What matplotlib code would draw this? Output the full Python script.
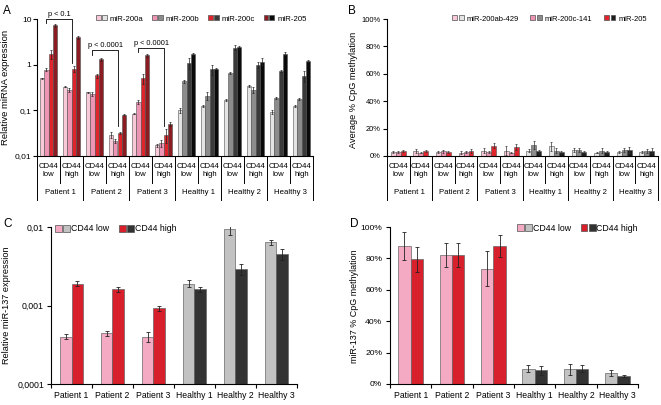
import numpy as np
import matplotlib
matplotlib.use('Agg')
import matplotlib.pyplot as plt
from matplotlib.patches import Patch
from matplotlib.legend_handler import HandlerTuple
from matplotlib.ticker import FuncFormatter, FixedLocator, NullLocator

plt.rcParams['font.family'] = ['Liberation Sans', 'DejaVu Sans']

W, H = 661, 405
DPI = 100

# ---------------- data ----------------
subjects = ['Patient 1', 'Patient 2', 'Patient 3', 'Healthy 1', 'Healthy 2', 'Healthy 3']
cd44_states = ['low', 'high']

# Panel A: relative miRNA expression (12 groups: subject x CD44 low/high)
a_series = ['miR-200a', 'miR-200b', 'miR-200c', 'miR-205']
a_mir200a = [0.50, 0.33, 0.25, 0.029, 0.085, 0.017, 0.10, 0.125, 0.168, 0.34, 0.092, 0.127]
a_mir200b = [0.77, 0.28, 0.23, 0.021, 0.155, 0.019, 0.43, 0.21, 0.66, 0.28, 0.19, 0.177]
a_mir200c = [1.70, 0.80, 0.58, 0.032, 0.50, 0.029, 1.10, 0.80, 2.35, 1.00, 0.72, 0.56]
a_mir205 = [7.3, 4.0, 1.30, 0.080, 1.60, 0.050, 1.70, 0.82, 2.40, 1.17, 1.75, 1.23]
a_err200a = [0.015, 0.010, 0.005, 0.004, 0.003, 0.001, 0.012, 0.008, 0.008, 0.012, 0.008, 0.006]
a_err200b = [0.06, 0.03, 0.02, 0.002, 0.015, 0.003, 0.04, 0.04, 0.04, 0.04, 0.010, 0.010]
a_err200c = [0.35, 0.12, 0.06, 0.002, 0.12, 0.010, 0.30, 0.20, 0.30, 0.15, 0.03, 0.15]
a_err205 = [0.50, 0.30, 0.12, 0.002, 0.12, 0.005, 0.08, 0.03, 0.20, 0.20, 0.10, 0.06]

# Panel B: average % CpG methylation
b_series = ['miR-200ab-429', 'miR-200c-141', 'miR-205']
b_mir200ab = [3.0, 3.5, 3.0, 2.5, 4.0, 4.0, 4.0, 7.0, 4.5, 2.5, 3.0, 3.0]
b_mir200c = [3.0, 2.5, 3.5, 3.0, 3.0, 2.5, 8.0, 4.0, 4.5, 4.0, 4.5, 3.5]
b_mir205 = [3.5, 3.5, 3.0, 3.5, 7.5, 6.5, 3.5, 3.0, 3.0, 3.0, 4.5, 4.0]
b_err200ab = [1.0, 1.5, 0.8, 0.8, 1.5, 3.5, 1.0, 3.5, 1.5, 0.5, 0.8, 0.5]
b_err200c = [0.5, 0.5, 1.0, 0.8, 0.5, 0.5, 3.0, 1.5, 1.5, 1.5, 1.5, 1.5]
b_err205 = [0.8, 0.7, 0.7, 1.5, 2.0, 2.0, 1.0, 1.0, 0.5, 0.5, 2.0, 1.5]

# Panel C: relative miR-137 expression
c_low = [0.00040, 0.00044, 0.00040, 0.0019, 0.0093, 0.0064]
c_high = [0.0019, 0.0016, 0.00092, 0.0016, 0.0029, 0.0045]
c_low_err = [0.00003, 0.000035, 0.00006, 0.0002, 0.0013, 0.0005]
c_high_err = [0.00013, 0.0001, 0.00008, 0.00013, 0.00045, 0.0007]

# Panel D: miR-137 % CpG methylation
d_low = [88, 82, 73.5, 9.8, 9.3, 7.2]
d_high = [79.5, 82, 88, 8.7, 9.8, 5.3]
d_low_err = [9, 7.5, 11, 2, 3.3, 1.8]
d_high_err = [8, 7.5, 7, 3, 2, 0.7]

# ---------------- styles ----------------
pat_A = ['#f8cad8', '#ee95b5', '#e0242b', '#8a1c22']
hea_A = ['#e4e4e4', '#8c8c8c', '#3a3a3a', '#0a0a0a']
pat_B = ['#f8cad8', '#ee95b5', '#e0242b']
hea_B = ['#e4e4e4', '#8c8c8c', '#1e1e1e']
pat_CD = ['#f5aac3', '#d8202c']
hea_CD = ['#c2c2c2', '#333333']
EDGE = '#505050'

fig = plt.figure(figsize=(W / DPI, H / DPI), dpi=DPI)


def px_axes(l, t, r, b):
    return fig.add_axes([l / W, 1 - b / H, (r - l) / W, (b - t) / H])


def style_axes(ax):
    for s in ('top', 'right'):
        ax.spines[s].set_visible(False)
    for s in ('left', 'bottom'):
        ax.spines[s].set_linewidth(0.8)


def comma_fmt(v, pos):
    return ('%g' % v).replace('.', ',')


def pct_fmt(v, pos):
    return '%d%%' % round(v)


def draw_table(ax, ax_h):
    trans = ax.get_xaxis_transform()
    n = len(subjects) * 2
    for g in range(n):
        ax.text(g, -14.5 / ax_h, 'CD44\n' + cd44_states[g % 2], transform=trans,
                ha='center', va='center', fontsize=5.6, linespacing=1.0)
    for s, name in enumerate(subjects):
        ax.text(2 * s + 0.5, -36 / ax_h, name, transform=trans,
                ha='center', va='center', fontsize=5.6)
    for bnd in range(n + 1):
        depth = 44 if bnd % 2 == 0 else 27
        ax.plot([bnd - 0.5, bnd - 0.5], [0, -depth / ax_h], transform=trans,
                clip_on=False, color='black', lw=0.7)


def pair_legend(ax, pairs, labels, fs, hl, hh, pad, htp, cs, loc, anchor):
    handles = [tuple(Patch(facecolor=c, edgecolor=EDGE, lw=0.5) for c in p) for p in pairs]
    ax.legend(handles, labels, handler_map={tuple: HandlerTuple(ndivide=None, pad=pad)},
              ncol=len(labels), loc=loc, bbox_to_anchor=anchor, frameon=False,
              fontsize=fs, handlelength=hl, handleheight=hh, handletextpad=htp,
              columnspacing=cs, borderpad=0, borderaxespad=0)


# ---------------- Panel A ----------------
axA = px_axes(37, 19, 313, 156)
style_axes(axA)
a_vals = [a_mir200a, a_mir200b, a_mir200c, a_mir205]
a_errs = [a_err200a, a_err200b, a_err200c, a_err205]
ngroups = len(subjects) * 2
gx = np.arange(ngroups)
wA = 0.195
for k in range(4):
    cols = [pat_A[k] if g < 6 else hea_A[k] for g in gx]
    axA.bar(gx + (k - 1.5) * wA, a_vals[k], wA, color=cols, edgecolor=EDGE, lw=0.4,
            yerr=a_errs[k], error_kw=dict(ecolor='#222222', elinewidth=0.5, capsize=1.0, capthick=0.5))
axA.set_yscale('log')
axA.set_ylim(0.01, 10)
axA.set_xlim(-0.5, ngroups - 0.5)
axA.set_xticks([])
axA.yaxis.set_major_locator(FixedLocator([0.01, 0.1, 1, 10]))
axA.yaxis.set_minor_locator(NullLocator())
axA.yaxis.set_major_formatter(FuncFormatter(comma_fmt))
axA.tick_params(axis='y', labelsize=6, length=3, width=0.8, pad=1)
draw_table(axA, 137)

# significance brackets
brackets = [(0, 'p < 0.1', 10.0, 8.0, 1.1),
            (2, 'p < 0.0001', 2.1, 1.6, 0.045),
            (4, 'p < 0.0001', 2.3, 1.9, 0.045)]
for g, txt, ytop, yl, yr in brackets:
    x1, x2 = g - 0.1, g + 1 + 0.02
    axA.plot([x1, x1, x2, x2], [yl, ytop, ytop, yr], color='black', lw=0.6, clip_on=False)
    axA.annotate(txt, xy=((x1 + x2) / 2, ytop), xytext=(0, 1.0), textcoords='offset points',
                 ha='center', va='bottom', fontsize=5.3, annotation_clip=False)

pair_legend(axA, list(zip(pat_A, hea_A)), a_series, fs=5.6, hl=1.37, hh=0.6, pad=0.17,
            htp=0.4, cs=1.1, loc='center right', anchor=(0.977, 1.0))

fig.text(5.5 / W, 1 - 87.5 / H, 'Relative miRNA expression', rotation=90,
         ha='center', va='center', fontsize=6.8)

# ---------------- Panel B ----------------
axB = px_axes(387, 19, 658, 156)
style_axes(axB)
b_vals = [b_mir200ab, b_mir200c, b_mir205]
b_errs = [b_err200ab, b_err200c, b_err205]
wB = 0.22
for k in range(3):
    cols = [pat_B[k] if g < 6 else hea_B[k] for g in gx]
    axB.bar(gx + (k - 1) * wB, b_vals[k], wB, color=cols, edgecolor=EDGE, lw=0.4,
            yerr=b_errs[k], error_kw=dict(ecolor='#333333', elinewidth=0.5, capsize=1.0, capthick=0.5))
axB.set_ylim(0, 100)
axB.set_xlim(-0.5, ngroups - 0.5)
axB.set_xticks([])
axB.set_yticks([0, 20, 40, 60, 80, 100])
axB.yaxis.set_major_formatter(FuncFormatter(pct_fmt))
axB.tick_params(axis='y', labelsize=5.4, length=3, width=0.8, pad=1.5)
draw_table(axB, 137)
pair_legend(axB, list(zip(pat_B, hea_B)), b_series, fs=5.5, hl=1.5, hh=0.6, pad=0.27,
            htp=0.4, cs=1.5, loc='center right', anchor=(0.96, 1.0))
fig.text(353.5 / W, 1 - 89.5 / H, 'Average % CpG methylation', rotation=90,
         ha='center', va='center', fontsize=6.6)

# ---------------- Panel C ----------------
axC = px_axes(51, 227, 297, 384)
style_axes(axC)
sx = np.arange(len(subjects))
wC = 0.285
axC.bar(sx - wC / 2, c_low, wC, color=[pat_CD[0]] * 3 + [hea_CD[0]] * 3, edgecolor='#666666', lw=0.5,
        yerr=c_low_err, error_kw=dict(ecolor='#222222', elinewidth=0.6, capsize=1.6, capthick=0.6))
axC.bar(sx + wC / 2, c_high, wC, color=[pat_CD[1]] * 3 + [hea_CD[1]] * 3, edgecolor='#666666', lw=0.5,
        yerr=c_high_err, error_kw=dict(ecolor='#222222', elinewidth=0.6, capsize=1.6, capthick=0.6))
axC.set_yscale('log')
axC.set_ylim(0.0001, 0.01)
axC.set_xlim(-0.5, len(subjects) - 0.5)
axC.yaxis.set_major_locator(FixedLocator([0.0001, 0.001, 0.01]))
axC.yaxis.set_minor_locator(NullLocator())
axC.yaxis.set_major_formatter(FuncFormatter(comma_fmt))
axC.tick_params(axis='y', labelsize=6.3, length=3, width=0.8, pad=2)
axC.set_xticks(sx)
axC.set_xticklabels(subjects)
axC.set_xticks(np.arange(len(subjects) + 1) - 0.5, minor=True)
axC.tick_params(axis='x', which='major', length=0, labelsize=6.2, pad=5)
axC.tick_params(axis='x', which='minor', length=3, width=0.8)
pair_legend(axC, [(pat_CD[0], hea_CD[0]), (pat_CD[1], hea_CD[1])], ['CD44 low', 'CD44 high'],
            fs=6.3, hl=1.71, hh=0.83, pad=0.05, htp=0.12, cs=1.15, loc='center left',
            anchor=(0.016, 0.989))
fig.text(6.5 / W, 1 - 305 / H, 'Relative miR-137 expression', rotation=90,
         ha='center', va='center', fontsize=6.6)

# ---------------- Panel D ----------------
axD = px_axes(390, 227, 638, 384)
style_axes(axD)
wD = 0.3
axD.bar(sx - wD / 2, d_low, wD, color=[pat_CD[0]] * 3 + [hea_CD[0]] * 3, edgecolor='#666666', lw=0.5,
        yerr=d_low_err, error_kw=dict(ecolor='#222222', elinewidth=0.6, capsize=1.6, capthick=0.6))
axD.bar(sx + wD / 2, d_high, wD, color=[pat_CD[1]] * 3 + [hea_CD[1]] * 3, edgecolor='#666666', lw=0.5,
        yerr=d_high_err, error_kw=dict(ecolor='#222222', elinewidth=0.6, capsize=1.6, capthick=0.6))
axD.set_ylim(0, 100)
axD.set_xlim(-0.5, len(subjects) - 0.5)
axD.set_yticks([0, 20, 40, 60, 80, 100])
axD.yaxis.set_major_formatter(FuncFormatter(pct_fmt))
axD.tick_params(axis='y', labelsize=6.1, length=3, width=0.8, pad=2.5)
axD.set_xticks(sx)
axD.set_xticklabels(subjects)
axD.set_xticks(np.arange(len(subjects) + 1) - 0.5, minor=True)
axD.tick_params(axis='x', which='major', length=0, labelsize=6.2, pad=5)
axD.tick_params(axis='x', which='minor', length=3, width=0.8)
pair_legend(axD, [(pat_CD[0], hea_CD[0]), (pat_CD[1], hea_CD[1])], ['CD44 low', 'CD44 high'],
            fs=6.3, hl=1.72, hh=0.8, pad=0.15, htp=0.1, cs=1.06, loc='center right',
            anchor=(1.0, 0.992))
fig.text(354.5 / W, 1 - 306.5 / H, 'miR-137 % CpG methylation', rotation=90,
         ha='center', va='center', fontsize=6.4)

# ---------------- panel letters ----------------
for letter, x, y in [('A', 3, 14), ('B', 348, 14), ('C', 3, 227), ('D', 350, 227)]:
    fig.text(x / W, 1 - y / H, letter, fontsize=8.5, ha='left', va='baseline')

fig.savefig('out.png', dpi=DPI)
